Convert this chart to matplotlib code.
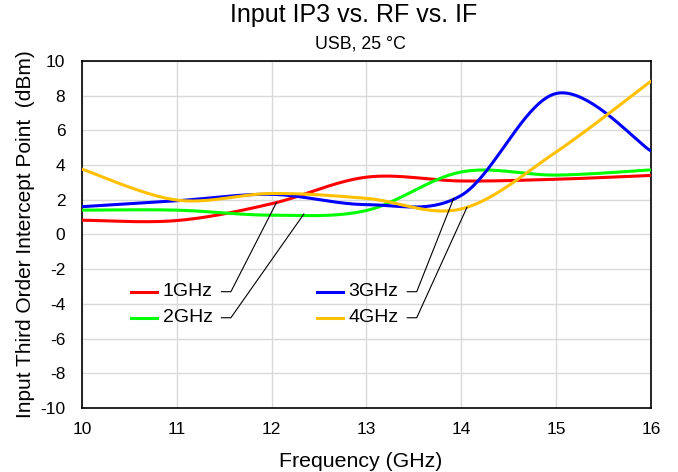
import numpy as np
import matplotlib
matplotlib.use('Agg')
from matplotlib import pyplot as plt

plt.rcParams['font.family'] = ['Liberation Sans', 'DejaVu Sans']
plt.rcParams['axes.unicode_minus'] = False

# RF frequency (GHz) and input IP3 (dBm)
freq = [10, 11, 12, 13, 14, 15, 16]
ip3_1ghz = [0.82, 0.80, 1.77, 3.30, 3.08, 3.18, 3.40]
ip3_2ghz = [1.40, 1.40, 1.11, 1.38, 3.60, 3.42, 3.72]
ip3_3ghz = [1.60, 1.94, 2.31, 1.72, 2.25, 8.12, 4.81]
ip3_4ghz = [3.76, 1.98, 2.36, 2.08, 1.47, 4.75, 8.83]

labels = ['1GHz', '2GHz', '3GHz', '4GHz']
colors = ['#FF0000', '#00FF00', '#0000FF', '#FFC000']
xticks = [10, 11, 12, 13, 14, 15, 16]
yticks = list(range(-10, 11, 2))


def smooth(x, y, n=40):
    # catmull-rom through the points, ends doubled (spreadsheet "smoothed line")
    x = np.asarray(x, float)
    y = np.asarray(y, float)
    px = np.concatenate([[x[0]], x, [x[-1]]])
    py = np.concatenate([[y[0]], y, [y[-1]]])
    t = np.linspace(0, 1, n, endpoint=False)
    xs, ys = [], []
    for i in range(1, len(px) - 2):
        for p, out in ((px, xs), (py, ys)):
            p0, p1, p2, p3 = p[i - 1], p[i], p[i + 1], p[i + 2]
            out.extend(0.5 * (2 * p1 + (-p0 + p2) * t
                              + (2 * p0 - 5 * p1 + 4 * p2 - p3) * t ** 2
                              + (-p0 + 3 * p1 - 3 * p2 + p3) * t ** 3))
    xs.append(x[-1])
    ys.append(y[-1])
    return xs, ys


fig = plt.figure(figsize=(6.78, 4.72), dpi=100)
ax = fig.add_axes([0.121, 0.1356, 0.839, 0.7354])

series = [ip3_1ghz, ip3_2ghz, ip3_3ghz, ip3_4ghz]
for vals, c in zip(series, colors):
    sx, sy = smooth(freq, vals)
    ax.plot(sx, sy, color=c, lw=2.2, zorder=3, solid_capstyle='round')

ax.set_xlim(10, 16)
ax.set_ylim(-10, 10)
ax.set_xticks(xticks)
ax.set_yticks(yticks)
ax.tick_params(length=0, labelsize=12.5)
ax.tick_params(axis='x', pad=10)
ax.tick_params(axis='y', pad=12)
ax.grid(color='#D9D9D9', lw=1)
ax.set_axisbelow(True)
for s in ax.spines.values():
    s.set_color('black')
    s.set_linewidth(1.2)

ax.set_xlabel('Frequency (GHz)', fontsize=15.3)
ax.xaxis.set_label_coords(0.4895, -0.169, transform=ax.transAxes)
ax.xaxis.label.set_va('baseline')
ax.set_ylabel('Input Third Order Intercept Point  (dBm)', fontsize=15, labelpad=4)

fig.text(0.521, 0.954, 'Input IP3 vs. RF vs. IF', ha='center', va='baseline', fontsize=18)
fig.text(0.532, 0.8976, 'USB, 25 °C', ha='center', va='baseline', fontsize=12.8)

# legend drawn inside the plot with leader lines to the curves
leg_pos = [(10.52, -3.3), (10.52, -4.8), (12.48, -3.3), (12.48, -4.8)]
leader_end = [(12.05, 1.83), (12.34, 1.18), (13.92, 2.08), (14.06, 1.56)]
for lab, c, (lx, ly), (ex, ey) in zip(labels, colors, leg_pos, leader_end):
    ax.plot([lx, lx + 0.27], [ly, ly], color=c, lw=2.2, zorder=4)
    ax.text(lx + 0.33, ly, lab, fontsize=14, va='center', ha='left', zorder=4)
    hx = lx + 0.95
    ax.plot([hx, hx + 0.1, ex], [ly, ly, ey], color='black', lw=0.8, zorder=4)

fig.savefig('out.png', dpi=100)
